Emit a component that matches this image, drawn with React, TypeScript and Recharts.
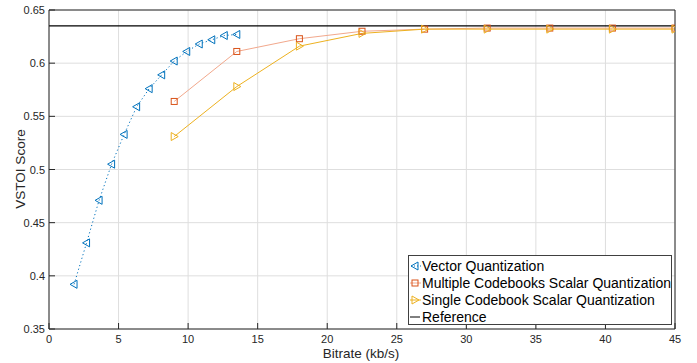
import { CartesianGrid, Line, LineChart, ReferenceLine, XAxis, YAxis } from "recharts";

const VQ_BITRATE = [1.8, 2.7, 3.6, 4.5, 5.4, 6.3, 7.2, 8.1, 9.0, 9.9, 10.8, 11.7, 12.6, 13.5];
const VQ_SCORE = [0.392, 0.431, 0.471, 0.505, 0.533, 0.559, 0.576, 0.589, 0.602, 0.611, 0.618, 0.622, 0.626, 0.627];
const SQ_BITRATE = [9, 13.5, 18, 22.5, 27, 31.5, 36, 40.5, 45];
const MULTI_SCORE = [0.564, 0.611, 0.623, 0.63, 0.632, 0.633, 0.633, 0.633, 0.633];
const SINGLE_SCORE = [0.531, 0.578, 0.616, 0.628, 0.632, 0.632, 0.632, 0.632, 0.632];
const REFERENCE_SCORE = 0.635;
const X_TICKS = [0, 5, 10, 15, 20, 25, 30, 35, 40, 45];
const Y_TICKS = [0.35, 0.4, 0.45, 0.5, 0.55, 0.6, 0.65];

const vqData = VQ_BITRATE.map((x, i) => ({ x, y: VQ_SCORE[i] }));
const multiData = SQ_BITRATE.map((x, i) => ({ x, y: MULTI_SCORE[i] }));
const singleData = SQ_BITRATE.map((x, i) => ({ x, y: SINGLE_SCORE[i] }));

const AXIS = "#262626";
const BLUE = "#0072BD";
const ORANGE = "#D95319";
const ORANGE_LINE = "#F2A88C";
const YELLOW = "#EDB120";
const FONT = '"Liberation Sans", Arial, sans-serif';

const fmt = (v: number) => String(Number(v.toFixed(2)));

function BottomTick({ x, y, payload }: any) {
  return (
    <g>
      <line x1={x} x2={x} y1={y} y2={y - 6} stroke={AXIS} />
      <text x={x} y={y + 13.5} textAnchor="middle" fontSize={11} fill={AXIS} fontFamily={FONT}>
        {fmt(payload.value)}
      </text>
    </g>
  );
}

function TopTick({ x, y }: any) {
  return <line x1={x} x2={x} y1={y} y2={y + 6} stroke={AXIS} />;
}

function LeftTick({ x, y, payload }: any) {
  return (
    <g>
      <line x1={x} x2={x + 6} y1={y} y2={y} stroke={AXIS} />
      <text x={x - 4} y={y + 4} textAnchor="end" fontSize={11} fill={AXIS} fontFamily={FONT}>
        {fmt(payload.value)}
      </text>
    </g>
  );
}

function RightTick({ x, y }: any) {
  return <line x1={x} x2={x - 6} y1={y} y2={y} stroke={AXIS} />;
}

function TriLeft({ cx, cy, color }: { cx: number; cy: number; color: string }) {
  return (
    <polygon
      points={`${cx - 4},${cy} ${cx + 3},${cy - 4} ${cx + 3},${cy + 4}`}
      fill="none"
      stroke={color}
      strokeWidth={1}
    />
  );
}

function TriRight({ cx, cy, color }: { cx: number; cy: number; color: string }) {
  return (
    <polygon
      points={`${cx + 4},${cy} ${cx - 3},${cy - 4} ${cx - 3},${cy + 4}`}
      fill="none"
      stroke={color}
      strokeWidth={1}
    />
  );
}

function Square({ cx, cy, color }: { cx: number; cy: number; color: string }) {
  return <rect x={cx - 3} y={cy - 3} width={6} height={6} fill="none" stroke={color} strokeWidth={1} />;
}

function LegendBox() {
  const rows = [
    { label: "Vector Quantization", icon: <><line x1={2} x2={12} y1={7} y2={7} stroke={BLUE} strokeDasharray="1 2" /><TriLeft cx={6} cy={7} color={BLUE} /></> },
    { label: "Multiple Codebooks Scalar Quantization", icon: <><line x1={1} x2={12} y1={7} y2={7} stroke={ORANGE_LINE} /><Square cx={6} cy={7} color={ORANGE} /></> },
    { label: "Single Codebook Scalar Quantization", icon: <><line x1={1} x2={12} y1={7} y2={7} stroke={YELLOW} /><TriRight cx={6} cy={7} color={YELLOW} /></> },
    { label: "Reference", icon: <line x1={1} x2={11} y1={7} y2={7} stroke="#000" /> },
  ];
  return (
    <div
      style={{
        position: "absolute",
        left: 408,
        top: 255,
        width: 264,
        height: 70,
        border: "1px solid #404040",
        background: "#fff",
        fontFamily: FONT,
        fontSize: 14,
        color: "#000",
        boxSizing: "border-box",
        paddingTop: 1,
      }}
    >
      {rows.map((r) => (
        <div key={r.label} style={{ display: "flex", alignItems: "center", height: 17.2, whiteSpace: "nowrap" }}>
          <svg width={13} height={14}>
            {r.icon}
          </svg>
          <span>{r.label}</span>
        </div>
      ))}
    </div>
  );
}

export default function App() {
  return (
    <div style={{ position: "absolute", left: 0, top: 0, width: 697, height: 363, background: "#fff" }}>
      <LineChart width={697} height={363} margin={{ top: 0, right: 0, bottom: 0, left: 0 }}>
        <CartesianGrid stroke="#dedede" strokeWidth={1} horizontalValues={Y_TICKS} verticalValues={X_TICKS} />
        <XAxis
          type="number"
          dataKey="x"
          domain={[0, 45]}
          ticks={X_TICKS}
          height={34}
          tickSize={0}
          tickMargin={0}
          stroke={AXIS}
          tick={<BottomTick />}
          interval={0}
          allowDataOverflow
        />
        <XAxis
          xAxisId="top"
          orientation="top"
          type="number"
          domain={[0, 45]}
          ticks={X_TICKS}
          height={10}
          tickSize={0}
          tickMargin={0}
          stroke={AXIS}
          tick={<TopTick />}
          interval={0}
        />
        <YAxis
          type="number"
          domain={[0.35, 0.65]}
          ticks={Y_TICKS}
          width={49}
          tickSize={0}
          tickMargin={0}
          stroke={AXIS}
          tick={<LeftTick />}
          interval={0}
        />
        <YAxis
          yAxisId="right"
          orientation="right"
          type="number"
          domain={[0.35, 0.65]}
          ticks={Y_TICKS}
          width={22}
          tickSize={0}
          tickMargin={0}
          stroke={AXIS}
          tick={<RightTick />}
          interval={0}
        />
        <ReferenceLine y={REFERENCE_SCORE} stroke="#000" strokeWidth={1.2} />
        <Line
          data={vqData}
          dataKey="y"
          stroke={BLUE}
          strokeWidth={1}
          strokeDasharray="1.2 2.6"
          isAnimationActive={false}
          dot={(p: any) => <TriLeft key={p.index} cx={p.cx} cy={p.cy} color={BLUE} />}
        />
        <Line
          data={multiData}
          dataKey="y"
          stroke={ORANGE_LINE}
          strokeWidth={1}
          isAnimationActive={false}
          dot={(p: any) => <Square key={p.index} cx={p.cx} cy={p.cy} color={ORANGE} />}
        />
        <Line
          data={singleData}
          dataKey="y"
          stroke={YELLOW}
          strokeWidth={1}
          isAnimationActive={false}
          dot={(p: any) => <TriRight key={p.index} cx={p.cx} cy={p.cy} color={YELLOW} />}
        />
      </LineChart>
      <div
        style={{
          position: "absolute",
          left: 19.5,
          top: 169,
          transform: "translate(-50%, -50%) rotate(-90deg)",
          fontFamily: FONT,
          fontSize: 13.5,
          color: AXIS,
          whiteSpace: "nowrap",
        }}
      >
        VSTOI Score
      </div>
      <div
        style={{
          position: "absolute",
          left: 361,
          top: 353,
          transform: "translate(-50%, -50%)",
          fontFamily: FONT,
          fontSize: 13.5,
          color: AXIS,
          whiteSpace: "nowrap",
        }}
      >
        Bitrate (kb/s)
      </div>
      <LegendBox />
    </div>
  );
}
